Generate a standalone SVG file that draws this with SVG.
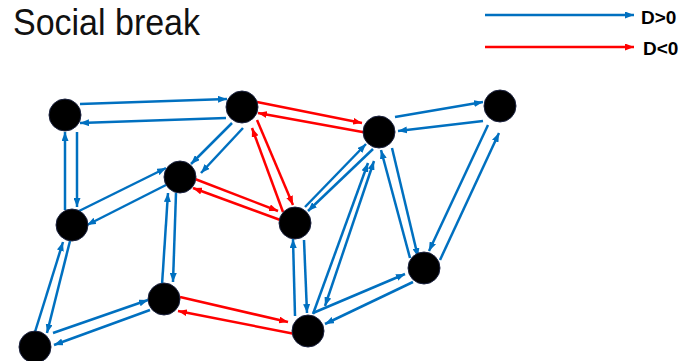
<svg xmlns="http://www.w3.org/2000/svg" width="679" height="361" viewBox="0 0 679 361">
<defs>
<marker id="ab" markerUnits="userSpaceOnUse" markerWidth="9" markerHeight="7" refX="9" refY="3.5" orient="auto-start-reverse"><path d="M0,0 L9,3.5 L0,7 z" fill="#0070C0"/></marker>
<marker id="ar" markerUnits="userSpaceOnUse" markerWidth="9" markerHeight="7" refX="9" refY="3.5" orient="auto-start-reverse"><path d="M0,0 L9,3.5 L0,7 z" fill="#FF0000"/></marker>
<style>
.b{stroke:#0070C0;stroke-width:2.5;fill:none;marker-end:url(#ab)}
.r{stroke:#FF0000;stroke-width:2.5;fill:none;marker-end:url(#ar)}
.n{fill:#000;stroke:#1c2340;stroke-width:1}
.t{font-family:"Liberation Sans",Arial,sans-serif}
.lg{font-family:"Liberation Sans",Arial,sans-serif;font-weight:bold;font-size:19px;fill:#000}
</style>
</defs>
<rect width="679" height="361" fill="#fff"/>
<text class="t" x="13" y="35" font-size="36" textLength="187" lengthAdjust="spacingAndGlyphs" fill="#111">Social break</text>
<g id="legend">
<line class="b" x1="485" y1="15" x2="634" y2="15"/>
<text class="lg" x="641" y="24">D&gt;0</text>
<line class="r" x1="485" y1="47" x2="634" y2="47"/>
<text class="lg" x="643" y="55">D&lt;0</text>
</g>
<g id="connectors">
<line class="b" x1="80" y1="104" x2="227" y2="99"/>
<line class="b" x1="226" y1="118" x2="80" y2="123"/>
<line class="b" x1="65" y1="210" x2="65" y2="132"/>
<line class="b" x1="77" y1="132" x2="77" y2="207"/>
<line class="b" x1="232" y1="123" x2="191" y2="164"/>
<line class="b" x1="243" y1="128" x2="201" y2="173"/>
<line class="b" x1="75" y1="213" x2="166" y2="168"/>
<line class="b" x1="166" y1="185" x2="87" y2="225"/>
<line class="b" x1="162" y1="285" x2="168" y2="193"/>
<line class="b" x1="176" y1="193" x2="173" y2="282"/>
<line class="b" x1="35" y1="332" x2="63" y2="242"/>
<line class="b" x1="70" y1="241" x2="47" y2="333"/>
<line class="b" x1="53" y1="333" x2="148" y2="300"/>
<line class="b" x1="150" y1="310" x2="54" y2="345"/>
<line class="b" x1="395" y1="117" x2="483" y2="102"/>
<line class="b" x1="483" y1="121" x2="398" y2="131"/>
<line class="b" x1="305" y1="207" x2="366" y2="144"/>
<line class="b" x1="373" y1="149" x2="308" y2="211"/>
<line class="b" x1="313" y1="314" x2="368" y2="163"/>
<line class="b" x1="374" y1="161" x2="325" y2="306" marker-start="url(#ab)"/>
<line class="b" x1="410" y1="258" x2="381" y2="150"/>
<line class="b" x1="392" y1="148" x2="418" y2="257"/>
<line class="b" x1="488" y1="125" x2="429" y2="251"/>
<line class="b" x1="440" y1="260" x2="499" y2="133"/>
<line class="b" x1="304" y1="240" x2="307" y2="313"/>
<line class="b" x1="295" y1="316" x2="293" y2="239"/>
<line class="b" x1="313" y1="313" x2="405" y2="274"/>
<line class="b" x1="413" y1="282" x2="325" y2="324"/>
<line class="r" x1="257" y1="102" x2="362" y2="123"/>
<line class="r" x1="368" y1="133" x2="258" y2="113"/>
<line class="r" x1="283" y1="212" x2="252" y2="128"/>
<line class="r" x1="257" y1="120" x2="293" y2="205"/>
<line class="r" x1="195" y1="179" x2="278" y2="211"/>
<line class="r" x1="283" y1="221" x2="193" y2="188"/>
<line class="r" x1="180" y1="297" x2="288" y2="322"/>
<line class="r" x1="295" y1="334" x2="178" y2="311"/>
</g>
<g id="nA"><circle class="n" cx="65" cy="115" r="16"/></g>
<g id="nB"><circle class="n" cx="242" cy="107" r="16"/></g>
<g id="nC"><circle class="n" cx="379" cy="132" r="16"/></g>
<g id="nD"><circle class="n" cx="500" cy="106" r="16"/></g>
<g id="nE"><circle class="n" cx="180" cy="177" r="16"/></g>
<g id="nF"><circle class="n" cx="72" cy="225" r="16"/></g>
<g id="nG"><circle class="n" cx="295" cy="223" r="16"/></g>
<g id="nH"><circle class="n" cx="424" cy="268" r="16"/></g>
<g id="nI"><circle class="n" cx="164" cy="299" r="16"/></g>
<g id="nJ"><circle class="n" cx="308" cy="331" r="16"/></g>
<g id="nK"><circle class="n" cx="35" cy="347" r="16"/></g>
</svg>
